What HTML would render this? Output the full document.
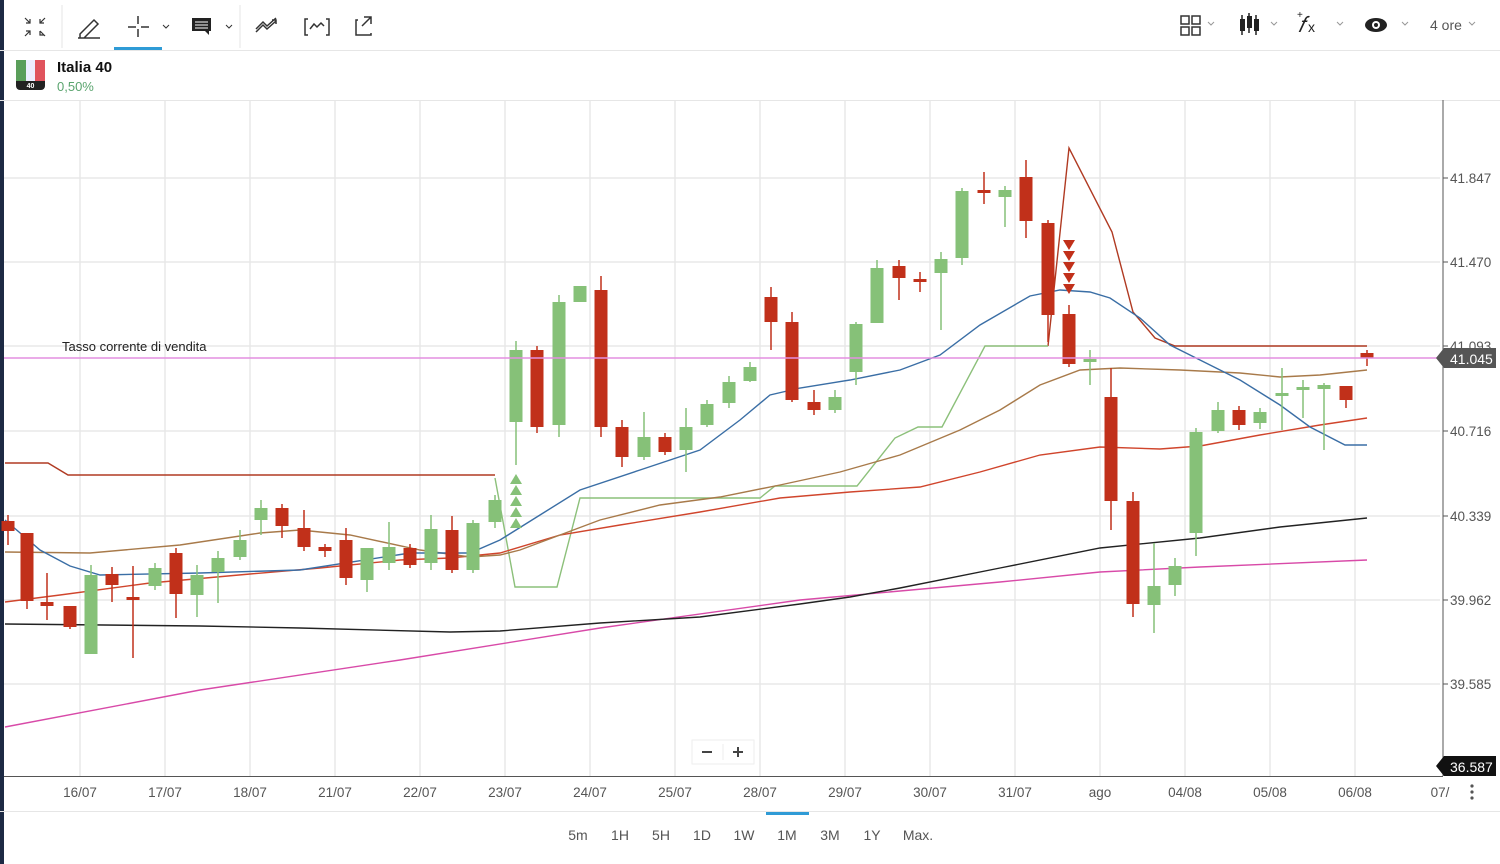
<!DOCTYPE html>
<html><head><meta charset="utf-8"><style>
body{margin:0;width:1500px;height:864px;background:#fff;font-family:"Liberation Sans",sans-serif;overflow:hidden;position:relative}
.t{position:absolute;color:#555;font-size:14px}
</style></head><body>
<div style="position:absolute;left:0;top:0;width:4px;height:864px;background:#1d2a44"></div>
<svg width="1500" height="864" style="position:absolute;left:0;top:0" id="s" font-family="Liberation Sans, sans-serif">
<line x1="0" y1="50.5" x2="1500" y2="50.5" stroke="#e6e6e6"/>
<line x1="0" y1="100.5" x2="1500" y2="100.5" stroke="#e6e6e6"/>
<line x1="62" y1="5" x2="62" y2="48" stroke="#e6e6e6"/>
<line x1="240" y1="5" x2="240" y2="48" stroke="#e6e6e6"/>
<rect x="114" y="47" width="48" height="3" fill="#2f9bd6"/>
<!-- toolbar icons -->
<g stroke="#333" stroke-width="1.5" fill="none">
<path d="M25 18l5 5M30 19v4h-4M45 18l-5 5M40 19v4h4M25 36l5-5M26 31h4v4M45 36l-5-5M40 31v4h4" stroke-width="1.2"/>
<path d="M80 34l14-14 4 4-14 14h-4z M78 38h22"/>
<path d="M138 16v8M138 29v8M128 27h8M141 27h8"/>
<path d="M163 25l3 3 3-3M226 25l3 3 3-3" stroke-width="1"/>
<path d="M256 32l7-7 4 4 9-8M256 29l7-7 4 4 9-8M272 20h4v4"/>
<path d="M308 19h-3v16h3M326 19h3v16h-3M310 29l4-5 3 3 4-4 3 3"/>
<path d="M358 20h-2v15h15v-2M364 17h7v7M371 17l-9 9"/>
</g>
<rect x="192" y="18" width="19" height="13" fill="#222"/><path d="M205 31l4 4v-4z" fill="#222"/>
<g stroke="#fff" stroke-width="1"><path d="M195 22h13M195 25h13M195 28h13"/></g>
<!-- right icons -->
<g stroke="#333" stroke-width="1.5" fill="none">
<rect x="1181" y="16" width="8" height="8"/><rect x="1192" y="16" width="8" height="8"/><rect x="1181" y="27" width="8" height="8"/><rect x="1192" y="27" width="8" height="8"/>
<path d="M1208 22l3 3 3-3M1271 22l3 3 3-3M1337 22l3 3 3-3M1402 22l3 3 3-3M1469 22l3 3 3-3" stroke-width="1" stroke="#999"/>
</g>
<g fill="#222"><rect x="1240" y="19" width="5" height="12"/><rect x="1247" y="16" width="5" height="12"/><rect x="1254" y="19" width="5" height="12"/>
<path d="M1242 15v20M1249 13v20M1256 15v20" stroke="#222" stroke-width="1.5"/></g>
<text x="1298" y="32" font-size="22" font-style="italic" font-family="Liberation Serif, serif" fill="#222">𝑓</text>
<text x="1308" y="32" font-size="14" fill="#222">x</text><text x="1297" y="18" font-size="10" fill="#222">+</text>
<ellipse cx="1376" cy="25" rx="11" ry="7" fill="#222"/><circle cx="1376" cy="25" r="4" fill="#fff"/><circle cx="1376" cy="25" r="2" fill="#222"/>
<text x="1430" y="30" font-size="14" fill="#555">4 ore</text>
<!-- flag -->
<rect x="16" y="60" width="29" height="30" rx="4" fill="#222"/>
<rect x="16" y="60" width="10" height="21" fill="#5a9e5a"/><rect x="26" y="60" width="9" height="21" fill="#eef"/><rect x="35" y="60" width="10" height="21" fill="#e0545d"/>
<text x="30.5" y="88" font-size="7" fill="#fff" text-anchor="middle" font-weight="bold">40</text>
<text x="57" y="72" font-size="15" font-weight="bold" fill="#111">Italia 40</text>
<text x="57" y="91" font-size="13" fill="#5aa46e">0,50%</text>
<g id="grid" stroke="#e8e8e8" stroke-width="1.5"></g>
<line x1="1443" y1="100" x2="1443" y2="776" stroke="#555"/>
<line x1="4" y1="776.5" x2="1443" y2="776.5" stroke="#555"/>
<line x1="0" y1="811.5" x2="1500" y2="811.5" stroke="#e6e6e6"/>
<g id="lines" fill="none" stroke-width="1.4"></g>
<g id="c"></g>
<line x1="4" y1="358" x2="1440" y2="358" stroke="#e38fe0" stroke-width="1.5"/>
<text x="62" y="351" font-size="13" fill="#222">Tasso corrente di vendita</text>
<g id="ax" font-size="13.5" fill="#555"></g>
<path d="M1436 358l8-10h52v20h-52z" fill="#555"/><text x="1450" y="364" font-size="14" fill="#fff">41.045</text>
<path d="M1436 766l8-10h52v20h-52z" fill="#111"/><text x="1450" y="772" font-size="14" fill="#fff">36.587</text>
<rect x="692" y="740" width="62" height="24" fill="#fff" stroke="#eee"/>
<path d="M702 752h10M733 752h10M738 747v10" stroke="#444" stroke-width="2"/><line x1="723" y1="744" x2="723" y2="760" stroke="#eee"/>
<g fill="#555"><circle cx="1472" cy="786" r="1.6"/><circle cx="1472" cy="792" r="1.6"/><circle cx="1472" cy="798" r="1.6"/></g>
<rect x="766" y="812" width="43" height="3" fill="#2f9bd6"/>
<g font-size="14" fill="#555" text-anchor="middle">
<text x="578" y="840">5m</text><text x="620" y="840">1H</text><text x="661" y="840">5H</text><text x="702" y="840">1D</text><text x="744" y="840">1W</text><text x="787" y="840">1M</text><text x="830" y="840">3M</text><text x="872" y="840">1Y</text><text x="918" y="840">Max.</text>
</g>
</svg>
<script>
const N='http://www.w3.org/2000/svg';
function el(p,t,a,txt){const e=document.createElementNS(N,t);for(const k in a)e.setAttribute(k,a[k]);if(txt)e.textContent=txt;p.appendChild(e);return e;}
const g=document.getElementById('grid'),ax=document.getElementById('ax');
const days=['16/07','17/07','18/07','21/07','22/07','23/07','24/07','25/07','28/07','29/07','30/07','31/07','ago','04/08','05/08','06/08','07/'];
days.forEach((d,i)=>{const x=80+85*i;if(x<1440)el(g,'line',{x1:x,y1:101,x2:x,y2:776});el(ax,'text',{x:x,y:797,'text-anchor':'middle'},d);});
[[178,'41.847'],[262,'41.470'],[346,'41.093'],[431,'40.716'],[516,'40.339'],[600,'39.962'],[684,'39.585']].forEach(([y,t])=>{el(g,'line',{x1:4,y1:y,x2:1440,y2:y});el(ax,'line',{x1:1443,y1:y,x2:1448,y2:y,stroke:'#555'});el(ax,'text',{x:1450,y:y+5},t);});
const L=document.getElementById('lines');
function pl(c,pts,w){el(L,'polyline',{points:pts,stroke:c,'stroke-width':w||1.4});}
pl('#b03a22','5,463 48,463 68,475 495,475');
pl('#b03a22','1048,346 1069,148 1112,232 1133,312 1155,338 1175,346 1367,346');
pl('#8cc07a','495,478 515,587 557,587 580,498 760,498 775,486 857,486 895,438 918,427 942,427 985,346 1048,346');
pl('#d84aa8','5,727 200,690 400,660 600,628 800,600 1000,582 1100,572 1200,567 1367,560');
pl('#222','5,624 200,626 300,628 450,632 500,631 600,623 700,617 800,604 850,597 900,588 1000,568 1100,548 1200,538 1280,527 1367,518');
pl('#d0452c','5,602 60,595 150,583 250,574 320,568 400,560 450,558 500,553 560,535 620,525 700,512 780,498 850,492 920,487 980,472 1040,455 1100,447 1160,449 1200,446 1260,435 1320,425 1367,418');
pl('#a87a4a','5,552 90,553 180,545 260,533 300,530 350,535 420,550 470,557 500,555 520,550 560,535 600,520 660,505 720,497 780,485 840,472 900,455 960,430 1000,410 1040,385 1080,370 1120,368 1180,370 1240,373 1280,377 1320,375 1367,370');
pl('#3a6ea5','5,520 40,550 70,566 100,575 200,573 300,570 410,553 470,553 500,540 540,515 580,490 640,470 700,450 740,420 770,395 800,388 850,380 900,370 940,355 980,325 1030,296 1060,290 1090,292 1110,298 1140,318 1170,345 1200,360 1240,380 1280,405 1310,427 1345,445 1367,445');
const C=document.getElementById('c');
const cs=[[8,'r',521,531,515,545],[27,'r',533,601,533,609],[47,'r',602,606,573,620],[70,'r',606,627,606,629],[91,'g',575,654,565,654],[112,'r',574,585,567,602],[133,'r',597,599,566,658],[155,'g',568,586,563,590],[176,'r',553,594,548,618],[197,'g',575,595,565,617],[218,'g',558,572,551,603],[240,'g',540,557,530,560],[261,'g',508,520,500,535],[282,'r',508,526,504,538],[304,'r',528,547,510,551],[325,'r',547,551,544,557],[346,'r',540,578,528,585],[367,'g',548,580,550,592],[389,'g',547,563,522,570],[410,'r',548,565,544,568],[431,'g',529,563,515,570],[452,'r',530,570,516,573],[473,'g',523,570,520,573],[495,'g',500,522,495,528],[516,'g',350,422,341,465],[537,'r',350,427,346,433],[559,'g',302,425,295,437],[580,'g',286,302,286,302],[601,'r',290,427,276,437],[622,'r',427,457,420,467],[644,'g',437,457,412,460],[665,'r',437,452,433,455],[686,'g',427,450,408,472],[707,'g',404,425,400,427],[729,'g',382,403,376,408],[750,'g',367,381,362,382],[771,'r',297,322,287,350],[792,'r',322,400,312,402],[814,'r',402,410,390,415],[835,'g',397,410,390,413],[856,'g',324,372,322,385],[877,'g',268,323,260,323],[899,'r',266,278,260,300],[920,'r',279,282,272,292],[941,'g',259,273,252,330],[962,'g',191,258,188,265],[984,'r',190,193,172,204],[1005,'g',190,197,186,227],[1026,'r',177,221,160,238],[1048,'r',223,315,220,342],[1069,'r',314,364,305,367],[1090,'g',359,361,350,385],[1111,'r',397,501,368,530],[1133,'r',501,604,492,617],[1154,'g',586,605,543,633],[1175,'g',566,585,558,596],[1196,'g',432,533,428,556],[1218,'g',410,431,402,433],[1239,'r',410,425,406,430],[1260,'g',412,423,408,429],[1282,'g',393,396,368,430],[1303,'g',387,389,380,418],[1324,'g',385,389,383,450],[1346,'r',386,400,386,408],[1367,'r',353,358,350,366]];
cs.forEach(([x,c,o,cl,h,l])=>{const col=c=='r'?'#c1301a':'#86c178';el(C,'line',{x1:x,y1:h,x2:x,y2:l,stroke:col,'stroke-width':1.5});el(C,'rect',{x:x-6.5,y:o,width:13,height:Math.max(3,cl-o),fill:col});});
for(let i=0;i<5;i++){const y=474+i*11;el(C,'path',{d:`M516 ${y}l-6 10h12z`,fill:'#86c178'});}
for(let i=0;i<5;i++){const y=240+i*11;el(C,'path',{d:`M1069 ${y+10}l-6 -10h12z`,fill:'#c1301a'});}
</script>
</body></html>
